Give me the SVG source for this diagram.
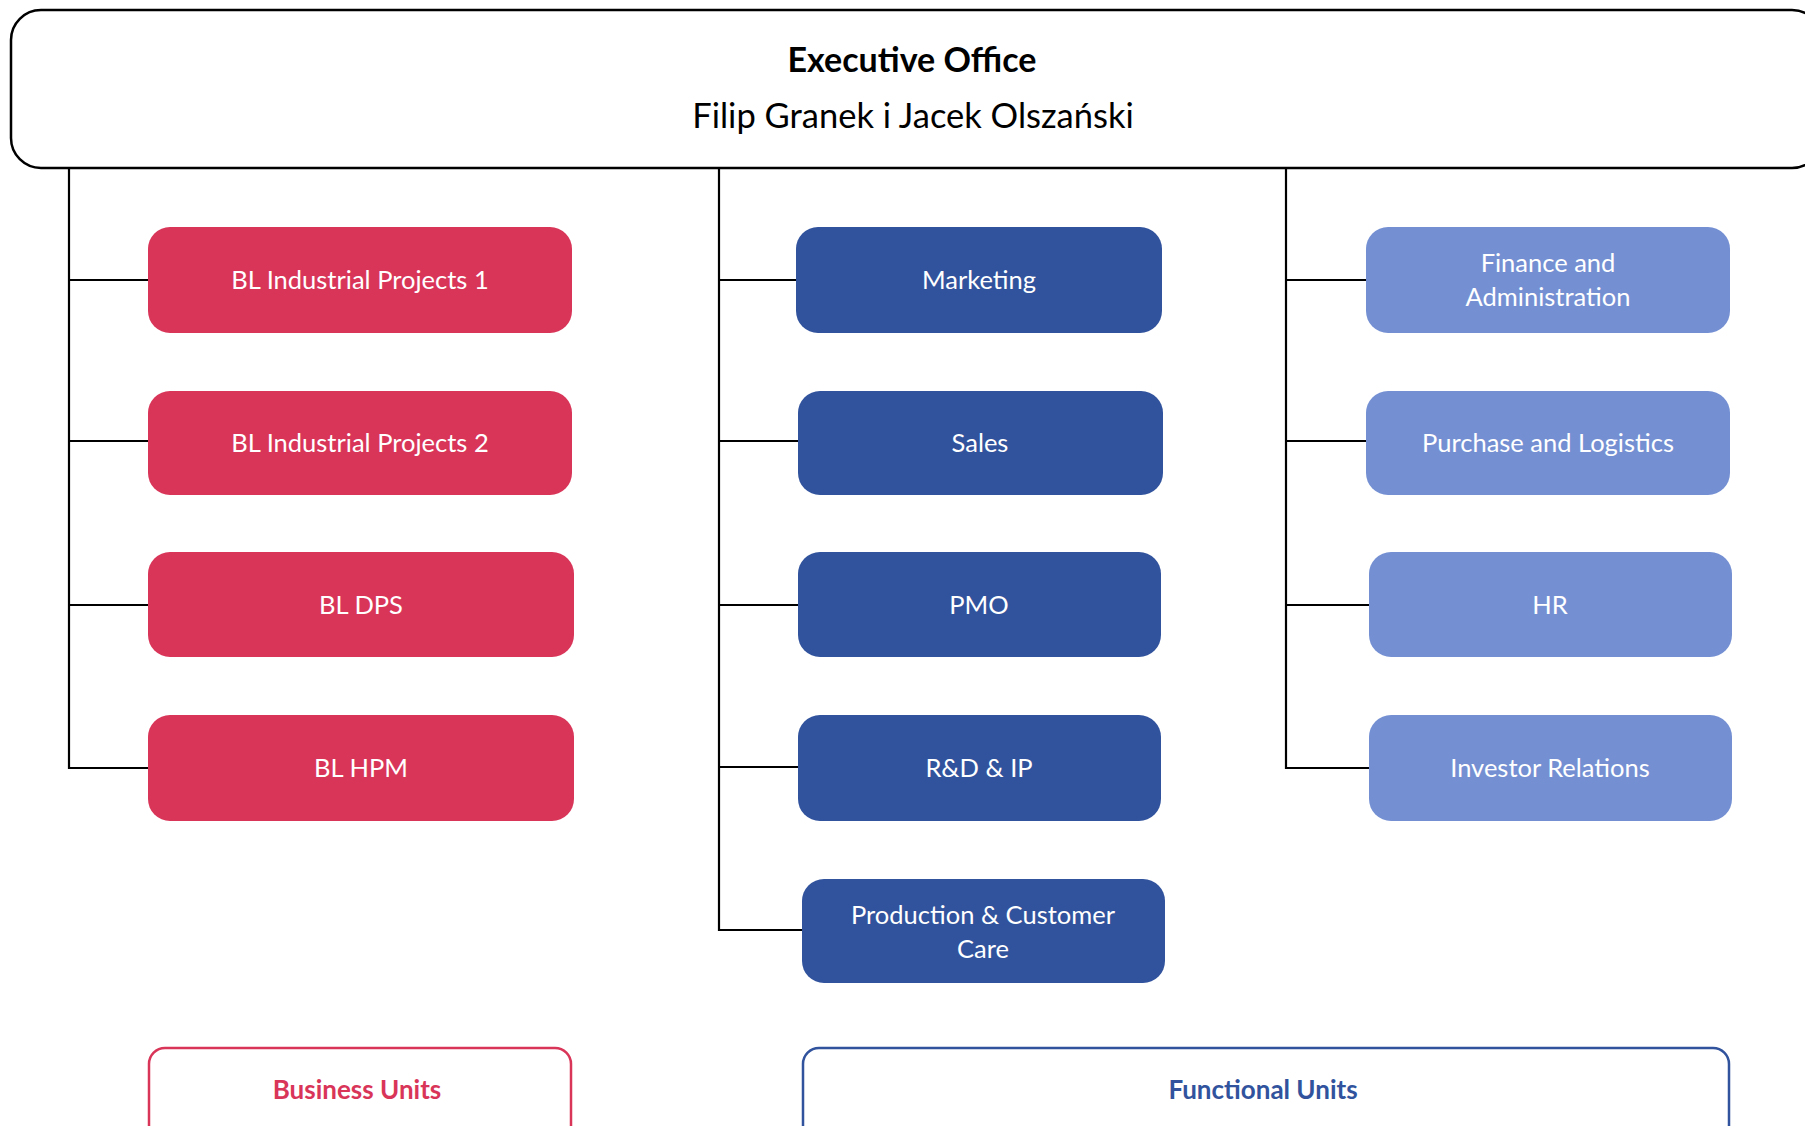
<svg xmlns="http://www.w3.org/2000/svg" width="1805" height="1126" viewBox="0 0 1805 1126">
<style>
  .lbl { font-family: Lato, "Open Sans", "Liberation Sans", sans-serif; font-size: 25.5px; fill: #ffffff; text-anchor: middle; }
  .red { fill: #D93559; }
  .dark { fill: #31539D; }
  .light { fill: #7490D3; }
  .conn { stroke: #000000; stroke-width: 2.2; fill: none; }
  .leg { font-family: Lato, "Open Sans", "Liberation Sans", sans-serif; font-size: 26px; font-weight: bold; text-anchor: middle; }
</style>
<rect width="1805" height="1126" fill="#ffffff"/>

<g id="connectors">
  <path class="conn" d="M69,168 V768 H148 M69,280 H148 M69,441 H148 M69,605 H148"/>
  <path class="conn" d="M719,168 V930 H802 M719,280 H796 M719,441 H798 M719,605 H798 M719,767 H798"/>
  <path class="conn" d="M1286,168 V768 H1369 M1286,280 H1366 M1286,441 H1366 M1286,605 H1369"/>
</g>

<g id="executive-office">
  <rect x="11" y="10" width="1811" height="158" rx="30" fill="#ffffff" stroke="#000000" stroke-width="2.5"/>
  <text x="912" y="72" font-family="Lato, 'Open Sans', 'Liberation Sans', sans-serif" font-size="34" font-weight="bold" text-anchor="middle" fill="#000000">Executive Office</text>
  <text x="913" y="128" font-family="Lato, 'Open Sans', 'Liberation Sans', sans-serif" font-size="34.5" text-anchor="middle" fill="#000000">Filip Granek i Jacek Olszański</text>
</g>

<g id="bl-industrial-projects-1">
  <rect class="red" x="148" y="227" width="424" height="106" rx="22"/>
  <text class="lbl" x="360" y="289">BL Industrial Projects 1</text>
</g>
<g id="bl-industrial-projects-2">
  <rect class="red" x="148" y="391" width="424" height="104" rx="22"/>
  <text class="lbl" x="360" y="452">BL Industrial Projects 2</text>
</g>
<g id="bl-dps">
  <rect class="red" x="148" y="552" width="426" height="105" rx="22"/>
  <text class="lbl" x="361" y="614">BL DPS</text>
</g>
<g id="bl-hpm">
  <rect class="red" x="148" y="715" width="426" height="106" rx="22"/>
  <text class="lbl" x="361" y="777">BL HPM</text>
</g>

<g id="marketing">
  <rect class="dark" x="796" y="227" width="366" height="106" rx="22"/>
  <text class="lbl" x="979" y="289">Marketing</text>
</g>
<g id="sales">
  <rect class="dark" x="798" y="391" width="365" height="104" rx="22"/>
  <text class="lbl" x="980" y="452">Sales</text>
</g>
<g id="pmo">
  <rect class="dark" x="798" y="552" width="363" height="105" rx="22"/>
  <text class="lbl" x="979" y="614">PMO</text>
</g>
<g id="rd-ip">
  <rect class="dark" x="798" y="715" width="363" height="106" rx="22"/>
  <text class="lbl" x="979" y="777">R&amp;D &amp; IP</text>
</g>
<g id="production-customer-care">
  <rect class="dark" x="802" y="879" width="363" height="104" rx="22"/>
  <text class="lbl" x="983" y="924">Production &amp; Customer</text>
  <text class="lbl" x="983" y="958">Care</text>
</g>

<g id="finance-administration">
  <rect class="light" x="1366" y="227" width="364" height="106" rx="22"/>
  <text class="lbl" x="1548" y="272">Finance and</text>
  <text class="lbl" x="1548" y="306">Administration</text>
</g>
<g id="purchase-logistics">
  <rect class="light" x="1366" y="391" width="364" height="104" rx="22"/>
  <text class="lbl" x="1548" y="452">Purchase and Logistics</text>
</g>
<g id="hr">
  <rect class="light" x="1369" y="552" width="363" height="105" rx="22"/>
  <text class="lbl" x="1550" y="614">HR</text>
</g>
<g id="investor-relations">
  <rect class="light" x="1369" y="715" width="363" height="106" rx="22"/>
  <text class="lbl" x="1550" y="777">Investor Relations</text>
</g>

<g id="legend-business-units">
  <rect x="149" y="1048" width="422" height="110" rx="16" fill="#ffffff" stroke="#D93559" stroke-width="2.5"/>
  <text class="leg" x="357" y="1099" fill="#D93559">Business Units</text>
</g>
<g id="legend-functional-units">
  <rect x="803" y="1048" width="926" height="110" rx="16" fill="#ffffff" stroke="#31539D" stroke-width="2.5"/>
  <text class="leg" x="1263" y="1099" fill="#31539D">Functional Units</text>
</g>
</svg>
